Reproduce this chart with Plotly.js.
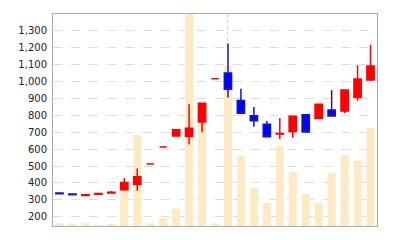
<!DOCTYPE html>
<html>
<head>
<meta charset="utf-8">
<script src="https://cdn.plot.ly/plotly-3.0.1.min.js"></script>
<style>html,body{margin:0;padding:0;background:#fff;}#chart{width:400px;height:240px;}</style>
</head>
<body>
<div id="chart"></div>
<script>
const days = [0,1,2,3,4,5,6,7,8,9,10,11,12,13,14,15,16,17,18,19,20,21,22,23,24];
const openP  = [340,335,326,333,341,360,390,512,612,678,675,760,1017,1050,888,798,747,690,705,804,782,832,826,906,1010];
const highP  = [342,337,334,338,352,427,486,512,612,715,865,871,1017,1226,957,849,766,784,794,806,865,948,950,1096,1218];
const lowP   = [333,328,322,330,338,354,354,512,612,677,628,700,1017,906,808,733,670,658,667,700,780,796,812,886,1003];
const closeP = [336,330,330,337,345,403,437,512,612,715,723,871,1017,954,812,768,673,692,794,701,865,796,950,1015,1092];
const volume = [270,270,330,100,200,3600,9100,270,770,1700,24000,11000,270,16000,7000,3800,2300,8000,5400,3200,2300,5300,7100,6500,9800];
const yTicks = [200,300,400,500,600,700,800,900,1000,1100,1200,1300];

const traces = [
  {
    type: 'bar', x: days, y: volume, yaxis: 'y',
    marker: {color: '#fdeac4', line: {width: 0}}, width: 0.62, hoverinfo: 'skip'
  },
  {
    type: 'candlestick', x: days, open: openP, high: highP, low: lowP, close: closeP, yaxis: 'y2',
    increasing: {line: {color: '#ff0000', width: 1.5}, fillcolor: '#ff0000'},
    decreasing: {line: {color: '#1414c8', width: 1.5}, fillcolor: '#0000ff'},
    whiskerwidth: 0
  }
];

const layout = {
  width: 400, height: 240,
  margin: {l: 53, r: 23, t: 14, b: 14},
  paper_bgcolor: '#fff', plot_bgcolor: '#fff',
  showlegend: false,
  boxgap: 0.2,
  font: {family: 'DejaVu Sans', size: 10, color: '#222'},
  xaxis: {
    range: [-0.5, 24.5], rangeslider: {visible: false},
    tickvals: [13], showticklabels: false, ticks: '',
    showgrid: true, gridcolor: '#cccccc', griddash: 'dot', gridwidth: 1,
    zeroline: false, showline: true, linecolor: '#aaaaaa', mirror: true, linewidth: 1
  },
  yaxis: {
    range: [0, 21200], showticklabels: false, ticks: '', showgrid: false, zeroline: false,
    showline: true, linecolor: '#aaaaaa', mirror: true, linewidth: 1
  },
  yaxis2: {
    overlaying: 'y', side: 'left',
    range: [145, 1400], tickvals: yTicks, tickformat: ',d',
    showgrid: true, gridcolor: '#dddddd', griddash: 'dash', gridwidth: 1,
    zeroline: false, showline: false,
    ticks: 'outside', ticklen: 3, tickcolor: 'rgba(0,0,0,0)',
    tickfont: {family: 'DejaVu Sans', size: 10, color: '#222'}
  }
};

Plotly.newPlot('chart', traces, layout, {displayModeBar: false, staticPlot: true});
</script>
</body>
</html>
